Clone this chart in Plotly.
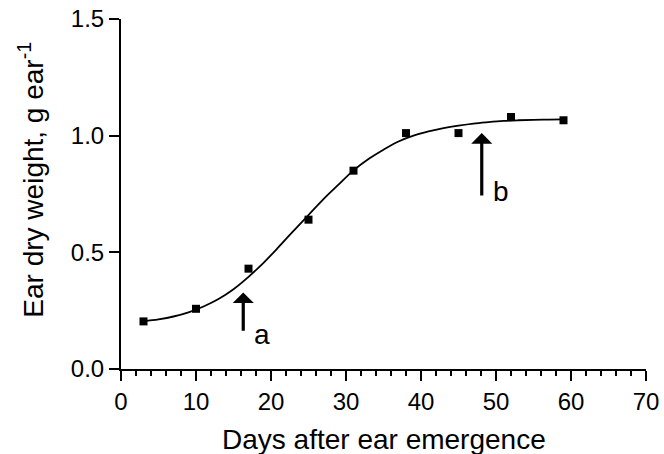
import plotly.graph_objects as go

# Observed data (days after ear emergence, ear dry weight g/ear)
days = [3, 10, 17, 25, 31, 38, 45, 52, 59]
weight = [0.204, 0.258, 0.43, 0.64, 0.85, 1.011, 1.011, 1.08, 1.066]

# Fitted sigmoid curve
fit_days = [3, 5, 7, 9, 11, 13, 15, 17, 19, 21, 23, 25, 27, 29, 31, 33, 35,
            37, 39, 41, 43, 45, 47, 49, 51, 53, 55, 57, 59]
fit_weight = [0.205, 0.213, 0.225, 0.243, 0.268, 0.300, 0.342, 0.395, 0.455,
              0.522, 0.592, 0.660, 0.728, 0.790, 0.851, 0.900, 0.940, 0.975,
              1.000, 1.018, 1.032, 1.043, 1.052, 1.058, 1.063, 1.066, 1.068,
              1.069, 1.070]

# Arrow markers (x, tip y, tail y) and labels
arrow_labels = ["a", "b"]
arrow_x = [16.3, 48.1]
arrow_tip = [0.328, 1.011]
arrow_tail = [0.157, 0.737]
label_x = [18.8, 50.6]
label_y = [0.15, 0.76]

x_ticks = [0, 10, 20, 30, 40, 50, 60, 70]
y_ticks = [0.0, 0.5, 1.0, 1.5]

FONT = "Liberation Sans, Arial, sans-serif"

fig = go.Figure()
fig.add_trace(go.Scatter(x=fit_days, y=fit_weight, mode="lines",
                         line=dict(color="black", width=1.8, shape="spline"),
                         hoverinfo="skip", showlegend=False))
fig.add_trace(go.Scatter(x=days, y=weight, mode="markers",
                         marker=dict(symbol="square", size=8, color="black"),
                         showlegend=False, cliponaxis=False))

annotations = []
for i in range(len(arrow_labels)):
    # arrow whose tail sits beside the label
    annotations.append(dict(x=arrow_x[i], y=arrow_tip[i], ax=arrow_x[i], ay=arrow_tail[i],
                            xref="x", yref="y", axref="x", ayref="y", text="",
                            showarrow=True, arrowhead=1, arrowsize=1.1, arrowwidth=3.2,
                            arrowcolor="black", standoff=0))
    annotations.append(dict(x=label_x[i], y=label_y[i], xref="x", yref="y",
                            text=arrow_labels[i], showarrow=False,
                            font=dict(family=FONT, size=28, color="black"),
                            xanchor="center", yanchor="middle"))

annotations.append(dict(x=0.5, y=-0.2014, xref="paper", yref="paper",
                        text="Days after ear emergence", showarrow=False,
                        font=dict(family=FONT, size=28, color="black"),
                        xanchor="center", yanchor="middle"))
annotations.append(dict(x=-0.1714, y=0.541, xref="paper", yref="paper",
                        text="Ear dry weight, g ear<sup>-1</sup>", showarrow=False,
                        textangle=-90,
                        font=dict(family=FONT, size=28, color="black"),
                        xanchor="center", yanchor="middle"))

fig.update_layout(
    width=664, height=454,
    margin=dict(l=121, r=18, t=19, b=85, autoexpand=False),
    paper_bgcolor="white", plot_bgcolor="white",
    font=dict(family=FONT, color="black"),
    annotations=annotations,
    xaxis=dict(range=[0, 70], tickvals=x_ticks, ticks="outside", ticklen=10,
               tickwidth=2, tickcolor="black", showline=True, linewidth=2,
               linecolor="black", showgrid=False, zeroline=False, automargin=False,
               tickfont=dict(family=FONT, size=24, color="black"),
               minor=dict(dtick=2, tick0=0, ticks="outside", ticklen=5,
                          tickwidth=1.5, tickcolor="black", showgrid=False)),
    yaxis=dict(range=[0, 1.5], tickvals=y_ticks, tickformat=".1f", ticks="outside",
               ticklen=10, tickwidth=2, tickcolor="black", showline=True,
               linewidth=2, linecolor="black", showgrid=False, zeroline=False,
               automargin=False,
               tickfont=dict(family=FONT, size=24, color="black")),
)

fig.write_html("out.html")
